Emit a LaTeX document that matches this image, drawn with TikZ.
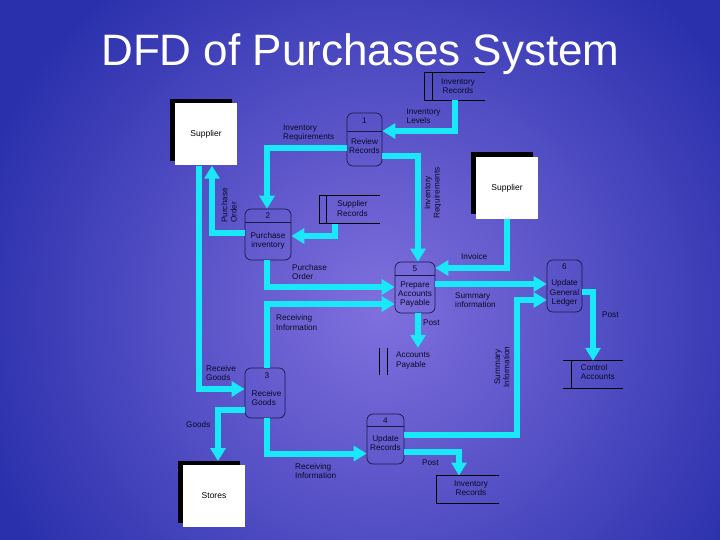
\documentclass[tikz,border=0pt]{standalone}
\usepackage{fontspec}
\setmainfont{Liberation Sans}
\usetikzlibrary{arrows.meta,shadows}
\definecolor{flowc}{RGB}{25,232,248}
\definecolor{bgA}{RGB}{42,48,172}
\definecolor{bgB}{RGB}{128,112,222}
\definecolor{procc}{RGB}{25,25,70}
\definecolor{labc}{RGB}{10,10,35}
\tikzset{
 flow/.style={draw=flowc,line width=6pt,-{Triangle[width=15pt,length=13pt]}},
 lab/.style={font=\fontsize{8.2}{9.3}\selectfont,text=labc,inner sep=0pt,align=left},
 ent/.style={fill=white,minimum width=62pt,minimum height=62pt,inner sep=0pt,
   font=\fontsize{8.5}{10}\selectfont,text=black,
   drop shadow={shadow xshift=-5pt,shadow yshift=4.5pt,fill=black,opacity=1}},
 proc/.style={draw=procc,line width=0.7pt,rounded corners=6pt,inner sep=0pt},
 store/.style={inner sep=0pt},
 sline/.style={draw=black,line width=0.9pt},
 divl/.style={draw=procc,line width=0.7pt},
}
\begin{document}
\begin{tikzpicture}[x=1pt,y=-1pt]
\useasboundingbox (0,0) rectangle (720,540);
\fill[bgA] (0,0) rectangle (720,540);
\begin{scope}
\clip (0,0) rectangle (720,540);
\shade[inner color=bgB,outer color=bgA] (380,310) circle (420pt);
\end{scope}

% title
\node[text=white,font=\fontsize{44}{50}\selectfont,anchor=base,inner sep=0pt] (title) at (360.5,66) {DFD of Purchases System};

% external entities
\node[ent] (sup1) at (206,134.5) {Supplier};
\node[ent] (sup2) at (507,188) {Supplier};
\node[ent] (stores) at (214,496) {Stores};
\coordinate (stTop) at (218,461);

% processes
\node[proc,minimum width=35pt,minimum height=53pt] (p1) at (364.5,139.5) {};
\node[lab] (n1) at (364.5,121) {1};
\draw[divl] (p1.west |- 0,131) -- (p1.east |- 0,131);
\node[lab,align=center] (t1) at (364.5,146) {Review\\Records};

\node[proc,minimum width=46pt,minimum height=51pt] (p2) at (268,234.5) {};
\node[lab] (n2) at (268,216) {2};
\draw[divl] (p2.west |- 0,222.7) -- (p2.east |- 0,222.7);
\node[lab,align=center] (t2) at (268,241) {Purchase\\inventory};

\node[proc,minimum width=40pt,minimum height=50pt] (p3) at (265,393) {};
\node[lab] (n3) at (267,376) {3};
\node[lab,anchor=west] (t3) at (251.5,398) {Receive\\Goods};

\node[proc,minimum width=37pt,minimum height=50pt] (p4) at (385.5,439) {};
\node[lab] (n4) at (385.5,421) {4};
\draw[divl] (p4.west |- 0,426.7) -- (p4.east |- 0,426.7);
\node[lab,align=center] (t4) at (385.5,443) {Update\\Records};

\node[proc,minimum width=40pt,minimum height=51pt] (p5) at (415,287.5) {};
\node[lab] (n5) at (415,268.5) {5};
\draw[divl] (p5.west |- 0,275.5) -- (p5.east |- 0,275.5);
\node[lab,align=center] (t5) at (415,294.5) {Prepare\\Accounts\\Payable};

\node[proc,minimum width=35pt,minimum height=52pt] (p6) at (564.5,286) {};
\node[lab] (n6) at (564.5,267) {6};
\node[lab,align=center] (t6) at (564.5,293) {Update\\General\\Ledger};

% data stores
\node[store,minimum width=60.7pt,minimum height=27.3pt] (ds1) at (454.7,86.4) {};
\draw[sline] (ds1.north east) -- (ds1.north west) -- (ds1.south west) -- (ds1.south east);
\draw[sline] (ds1.north -| 432.3,0) -- (ds1.south -| 432.3,0);
\node[lab,align=center] (l1) at (458,86) {Inventory\\Records};

\node[store,minimum width=60.7pt,minimum height=27.3pt] (ds2) at (349.7,209.7) {};
\draw[sline] (ds2.north east) -- (ds2.north west) -- (ds2.south west) -- (ds2.south east);
\draw[sline] (ds2.north -| 326.7,0) -- (ds2.south -| 326.7,0);
\node[lab,align=center] (l2) at (352.5,208.7) {Supplier\\Records};

\node[store,minimum width=60.7pt,minimum height=27pt] (ds3) at (409.7,361.5) {};
\draw[sline] (ds3.north west) -- (ds3.south west);
\draw[sline] (ds3.north -| 387.3,0) -- (ds3.south -| 387.3,0);
\node[lab,anchor=west] (l3) at (396,360.5) {Accounts\\Payable};

\node[store,minimum width=60pt,minimum height=27pt] (ds4) at (593,374.5) {};
\draw[sline] (ds4.north west) -- (ds4.north east);
\draw[sline] (ds4.south west) -- (ds4.south east);
\draw[sline] (ds4.north -| 571,0) -- (ds4.south -| 571,0);
\node[lab,anchor=west] (l4) at (580.7,372) {Control\\Accounts};

\node[store,minimum width=61.6pt,minimum height=27.6pt] (ds5) at (467.5,489.5) {};
\draw[sline] (ds5.north east) -- (ds5.north west) -- (ds5.south west) -- (ds5.south east);
\node[lab,align=center] (l5) at (471,488) {Inventory\\Records};

% flows
\draw[flow] (p2.west |- 0,233) -| (sup1.south -| 212,0);
\draw[flow] (sup1.south -| 199,0) |- (p3.west |- 0,389);
\draw[flow] (p1.west |- 0,148) -| (p2.north -| 267,0);
\draw[flow] (ds1.south -| 455,0) |- (p1.east |- 0,131);
\draw[flow] (p1.east |- 0,156) -| (p5.north -| 418,0);
\draw[flow] (ds2.south -| 335,0) |- (p2.east |- 0,236);
\draw[flow] (sup2.south -| 507,0) |- (p5.east |- 0,268);
\draw[flow] (p5.east |- 0,284) -- (p6.west |- 0,284);
\draw[flow] (p5.south -| 418,0) -- (ds3.north -| 418,0);
\draw[flow] (p6.east |- 0,292) -| (ds4.north -| 593,0);
\draw[flow] (p3.west |- 0,410) -| (stTop);
\draw[flow] (p3.south -| 267,0) |- (p4.west |- 0,453.5);
\draw[flow] (p3.north -| 267,0) |- (p5.west |- 0,304);
\draw[flow] (p2.south -| 267,0) |- (p5.west |- 0,287);
\draw[flow] (p4.east |- 0,452) -| (ds5.north -| 459,0);
\draw[flow] (p4.east |- 0,435) -| (517,300) -- (p6.west |- 0,300);

% flow labels
\node[lab,anchor=west] (fIR1) at (283,133) {Inventory\\Requirements};
\node[lab,anchor=west] (fIL) at (406.5,116.5) {Inventory\\Levels};
\node[lab,anchor=west,rotate=90] (fPO1) at (229,223) {Purchase\\Order};
\node[lab,align=center,rotate=90] (fIR2) at (433,193) {Inventory\\Requirements};
\node[lab,anchor=west] (fInv) at (461,257) {Invoice};
\node[lab,anchor=west] (fPO2) at (292,272) {Purchase\\Order};
\node[lab,anchor=west] (fRI1) at (276,322.5) {Receiving\\Information};
\node[lab,anchor=west] (fSI1) at (455,300) {Summary\\information};
\node[lab,anchor=west] (fPost1) at (423,323) {Post};
\node[lab,anchor=west] (fPost2) at (602,315) {Post};
\node[lab,align=center,rotate=90] (fSI2) at (502,367) {Summary\\Information};
\node[lab,anchor=west] (fRG) at (206,373) {Receive\\Goods};
\node[lab,anchor=west] (fGoods) at (186,425) {Goods};
\node[lab,anchor=west] (fRI2) at (295,471.3) {Receiving\\Information};
\node[lab,anchor=west] (fPost3) at (422,463) {Post};
\end{tikzpicture}
\end{document}
